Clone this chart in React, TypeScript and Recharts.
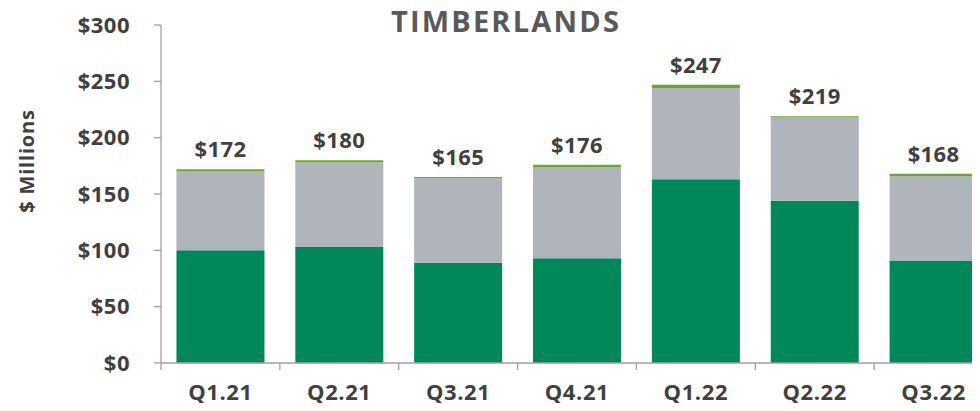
import { BarChart, Bar, XAxis, YAxis, LabelList } from "recharts";

const quarters = ["Q1.21", "Q2.21", "Q3.21", "Q4.21", "Q1.22", "Q2.22", "Q3.22"];
const totals = [172, 180, 165, 176, 247, 219, 168];
const darkGreen = [100, 103, 89, 93, 163, 144, 91];
const lightGreen = [2, 2, 1, 2, 3, 1, 2];
const yTicks = [0, 50, 100, 150, 200, 250, 300];

const data = quarters.map((q, i) => ({
  name: q,
  base: darkGreen[i],
  mid: totals[i] - darkGreen[i] - lightGreen[i],
  top: lightGreen[i],
}));

// chart is drawn in page coordinates, right edge runs past the window like the original
const CHART_W = 993;
const CHART_H = 411;
const YAXIS_W = 161;
const FONT = "'Open Sans', 'Noto Sans', sans-serif";
const TEXT = "#404040";
const AXIS = "#a0a0a0";

const halfBand = (CHART_W - YAXIS_W) / quarters.length / 2;

function QuarterTick(props: any) {
  const { x, y, payload } = props;
  const half = payload?.offset || halfBand;
  return (
    <g>
      <line x1={x - half} x2={x - half} y1={y} y2={y + 7} stroke={AXIS} strokeWidth={1.3} />
      <text
        x={x}
        y={y + 37}
        textAnchor="middle"
        fontFamily={FONT}
        fontWeight={700}
        fontSize={22}
        letterSpacing={0.6}
        fill={TEXT}
      >
        {payload.value}
      </text>
    </g>
  );
}

function TotalLabel(props: any) {
  const { x, y, width, index } = props;
  return (
    <text
      x={x + width / 2}
      y={y - 12}
      textAnchor="middle"
      fontFamily={FONT}
      fontWeight={700}
      fontSize={22}
      letterSpacing={0.4}
      fill={TEXT}
    >
      {`$${totals[index]}`}
    </text>
  );
}

function AxisTitle() {
  const cx = 26;
  const cy = 161;
  return (
    <text
      x={cx}
      y={cy}
      transform={`rotate(-90 ${cx} ${cy})`}
      textAnchor="middle"
      dominantBaseline="central"
      fontFamily={FONT}
      fontWeight={700}
      fontSize={20}
      letterSpacing={0.8}
      fill={TEXT}
    >
      $ Millions
    </text>
  );
}

export default function App() {
  return (
    <div
      style={{
        position: "relative",
        margin: -8,
        width: 980,
        height: CHART_H,
        overflow: "hidden",
      }}
    >
      <div
        style={{
          position: "absolute",
          left: 506,
          top: 6,
          transform: "translateX(-50%)",
          fontFamily: FONT,
          fontWeight: 700,
          fontSize: 29,
          letterSpacing: 2.2,
          lineHeight: 1,
          color: "#595959",
          whiteSpace: "nowrap",
          zIndex: 1,
        }}
      >
        TIMBERLANDS
      </div>
      <BarChart
        width={CHART_W}
        height={CHART_H}
        data={data}
        barCategoryGap="13%"
        margin={{ top: 25, right: 0, bottom: 8, left: 0 }}
      >
        <YAxis
          width={YAXIS_W}
          domain={[0, 300]}
          ticks={yTicks}
          interval={0}
          tickFormatter={(v: number) => `$${v}`}
          tick={{ fontFamily: FONT, fontWeight: 700, fontSize: 22, fill: TEXT, letterSpacing: 0.5 }}
          tickSize={7}
          tickMargin={24}
          axisLine={{ stroke: AXIS, strokeWidth: 1.3 }}
          tickLine={{ stroke: AXIS, strokeWidth: 1.3 }}
          label={{ content: () => <AxisTitle /> }}
        />
        <XAxis
          dataKey="name"
          height={40}
          interval={0}
          tickSize={0}
          tickMargin={0}
          tickLine={false}
          axisLine={{ stroke: AXIS, strokeWidth: 1.3 }}
          tick={<QuarterTick />}
        />
        <Bar dataKey="base" stackId="a" fill="#00875a" isAnimationActive={false} />
        <Bar dataKey="mid" stackId="a" fill="#afb5bb" isAnimationActive={false} />
        <Bar dataKey="top" stackId="a" fill="#6aa72b" isAnimationActive={false}>
          <LabelList dataKey="top" content={<TotalLabel />} />
        </Bar>
      </BarChart>
    </div>
  );
}
